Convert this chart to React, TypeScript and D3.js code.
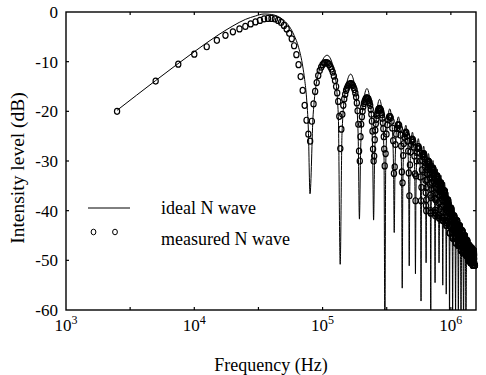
import React from "react";
import * as d3 from "d3";

// ---------- data (frequency in kHz, level in dB) ----------
const xMajorTicks = [1e3, 1e4, 1e5, 1e6];
const xMajorExp = ["3", "4", "5", "6"];
const xMinorTicks = [3162, 31623, 316228];
const yTicks = [0, -10, -20, -30, -40, -50, -60];
const yTickLabels = ["0", "-10", "-20", "-30", "-40", "-50", "-60"];

const legendLabels = ["ideal N wave", "measured N wave"];
const xTitle = "Frequency (Hz)";
const yTitle = "Intensity level (dB)";

// ideal N wave (main lobe)
const idealMain: [number, number][] = [
  [2.5, -19.8], [5, -13.8], [10, -8.0], [15, -4.8], [20, -2.8], [25, -1.5], [30, -0.8],
  [35, -0.4], [40, -0.5], [45, -0.9], [50, -1.7], [55, -2.9], [60, -4.7], [65, -7.1],
  [70, -10.9], [72.5, -13.6], [75, -17.3], [77.5, -23.8], [79.8, -36.6],
];
// ideal N wave (side lobes)
const idealLobes: [number, number][] = [
  [84.4, -20.7], [94.2, -11.7], [108.5, -8.7], [122.9, -11.7], [132.6, -20.7], [137.2, -50.8],
  [141.7, -24.5], [151.3, -15.5], [165.5, -12.5], [179.6, -15.5], [189.2, -24.5], [193.7, -41.7],
  [198.2, -27.4], [207.7, -18.4], [221.8, -15.4], [235.8, -18.4], [245.3, -27.4], [249.8, -41.9],
  [254.3, -29.6], [263.8, -20.6], [277.9, -17.6], [291.9, -20.6], [301.4, -29.6], [305.9, -66],
  [310.4, -31.5], [319.9, -22.5], [333.9, -19.5], [347.8, -22.5], [357.3, -31.5], [361.8, -44.4],
  [366.3, -33.1], [375.8, -24.1], [389.8, -21.1], [403.7, -24.1], [413.2, -33.1], [417.7, -55.6],
  [422.2, -34.8], [431.7, -25.8], [445.7, -22.8], [459.6, -25.8], [469.1, -34.8], [473.6, -51.1],
  [478.1, -36.2], [487.6, -27.2], [501.6, -24.2], [515.5, -27.2], [525.0, -36.2], [529.5, -52.7],
  [534.0, -37.5], [543.5, -28.5], [557.4, -25.5], [571.4, -28.5], [580.8, -37.5], [585.3, -58.2],
  [589.8, -39.0], [599.3, -30.0], [613.3, -27.0], [627.2, -30.0], [636.7, -39.0], [641.2, -50.5],
  [645.7, -40.5], [655.2, -31.5], [669.1, -28.5], [683.0, -31.5], [692.5, -40.5], [697.0, -66],
  [701.5, -41.9], [711.0, -32.9], [725.0, -29.9], [738.9, -32.9], [748.4, -41.9], [752.9, -54.5],
  [757.4, -43.6], [766.9, -34.6], [780.8, -31.6], [794.7, -34.6], [804.2, -43.6], [808.7, -50.5],
  [813.2, -44.9], [822.7, -35.9], [836.6, -32.9], [850.5, -35.9], [860.0, -44.9], [864.5, -55.0],
  [869.0, -46.3], [878.5, -37.3], [892.4, -34.3], [906.4, -37.3], [915.8, -46.3], [920.3, -56.8],
  [924.8, -48.3], [934.3, -39.3], [948.2, -36.3], [962.2, -39.3], [971.6, -48.3], [976.1, -66],
  [980.6, -50.3], [990.1, -41.3], [1004.1, -38.3], [1018.0, -41.3], [1027.5, -50.3], [1032.0, -66],
  [1036.5, -52.0], [1046.0, -43.0], [1059.9, -40.0], [1073.8, -43.0], [1083.3, -52.0], [1087.8, -63],
  [1092.3, -53.5], [1101.8, -44.5], [1115.7, -41.5], [1129.7, -44.5], [1139.1, -53.5], [1143.6, -66],
  [1148.1, -55.0], [1157.6, -46.0], [1171.5, -43.0], [1185.4, -46.0], [1194.9, -55.0], [1199.4, -63],
  [1203.9, -56.5], [1213.4, -47.5], [1227.3, -44.5], [1241.3, -47.5], [1250.7, -56.5], [1255.2, -66],
  [1259.7, -58.0], [1269.2, -49.0], [1283.1, -46.0], [1297.1, -49.0], [1306.5, -58.0], [1311.0, -66],
  [1315.5, -59.5], [1325.0, -50.5], [1338.9, -47.5],
];

// measured N wave
const measuredLow: [number, number][] = [
  [2.5, -20], [5, -13.9], [7.5, -10.5], [10, -8.5], [12.5, -7.0], [15, -5.7], [17.5, -4.7],
  [20, -4.0], [22.5, -3.4], [25, -2.9], [27.5, -2.4], [30, -2.0], [32.5, -1.7], [35, -1.4],
  [37.5, -1.3], [40, -1.3], [42.5, -1.4], [45, -1.7], [47.5, -2.1], [50, -2.7], [52.5, -3.4],
  [55, -4.3], [57.5, -5.4], [60, -6.8], [62.5, -8.6], [65, -10.6], [67.5, -13.0], [70, -15.8],
  [72.5, -18.8], [75, -21.8], [77.5, -24.6], [80, -26.0],
  [82.5, -22.0], [85, -18.5], [87.5, -16.0], [90, -14.2], [92.5, -12.8], [95, -11.8], [97.5, -11.1],
  [100, -10.6], [102.5, -10.3], [105, -10.2], [107.5, -10.2], [110, -10.3], [112.5, -10.6],
  [115, -11.0], [117.5, -11.5], [120, -12.1], [122.5, -12.9], [125, -13.8], [127.5, -15.0],
  [130, -16.3], [132.5, -18.0], [135, -21.0], [137.5, -27.5],
];
const measuredMid: [number, number][] = [
  [140, -23.6], [142.5, -20.6], [145, -18.8], [147.5, -17.5], [150, -16.6], [152.5, -15.8],
  [155, -15.3], [157.5, -14.9], [160, -14.6], [162.5, -14.5], [165, -14.4], [167.5, -14.4],
  [170, -14.6], [172.5, -14.8], [175, -15.2], [177.5, -15.6], [180, -16.3], [182.5, -17.1],
  [185, -18.3], [187.5, -19.9], [190, -22.6], [192.5, -28.0],
  [195, -30.0], [197.5, -25.1], [200, -22.6], [202.5, -21.1], [205, -20.0], [207.5, -19.1],
  [210, -18.4], [212.5, -18.0], [215, -17.7], [217.5, -17.4], [220, -17.3], [222.5, -17.3],
  [225, -17.4], [227.5, -17.5], [230, -17.9], [232.5, -18.2], [235, -18.8], [237.5, -19.6],
  [240, -20.6], [242.5, -22.0], [245, -24.0], [247.5, -27.6],
  [250, -30.0], [252.5, -29.0], [255, -25.7], [257.5, -23.8], [260, -22.5], [262.5, -21.6],
  [265, -20.8], [267.5, -20.3], [270, -19.9], [272.5, -19.6], [275, -19.5], [277.5, -19.4],
  [280, -19.5], [282.5, -19.6], [285, -19.8], [287.5, -20.2], [290, -20.7], [292.5, -21.4],
  [295, -22.3], [297.5, -23.5], [300, -25.1], [302.5, -27.6], [305, -31.0],
];
const measuredHigh: [number, number][] = [
  [310, -28.5], [315, -24.6], [320, -22.7], [325, -21.7], [330, -21.1], [335, -21.0], [340, -21.3],
  [345, -22.0], [350, -23.4], [355, -25.9], [360, -32.5],
  [365, -31.2], [370, -26.7], [375, -24.6], [380, -23.4], [385, -22.8], [390, -22.6], [395, -22.8],
  [400, -23.5], [405, -24.8], [410, -27.0], [415, -32.2],
  [420, -34.4], [425, -28.9], [430, -26.5], [435, -25.2], [440, -24.5], [445, -24.2], [450, -24.3],
  [455, -24.9], [460, -26.0], [465, -28.0], [470, -32.4],
  [475, -37.0], [480, -30.8], [485, -28.2], [490, -26.7], [495, -25.9], [500, -25.6], [505, -25.7],
  [510, -26.2], [515, -27.2], [520, -29.0], [525, -32.6],
  [530, -38.0], [535, -33.0], [540, -30.0], [545, -28.3], [550, -27.5], [555, -27.1], [560, -27.1],
  [565, -27.5], [570, -28.4], [575, -30.0], [580, -33.2], [585, -38.0],
  [590, -35.3], [595, -31.8], [600, -29.9],
];
const measuredTail: [number, number][] = [
  [605, -29.1], [610, -28.6], [615, -28.5], [620, -28.8], [625, -29.6], [630, -31.2], [635, -33.9], [640, -39.0],
  [645, -37.8], [650, -33.8], [655, -31.8], [660, -30.7], [665, -30.1], [670, -30.0], [675, -30.3],
  [680, -31.0], [685, -32.4], [690, -34.8], [695, -40.0],
  [700, -40.4], [705, -35.6], [710, -33.4], [715, -32.3], [720, -31.6], [725, -31.4], [730, -31.6],
  [735, -32.3], [740, -33.5], [745, -35.7], [750, -40.4],
  [755, -41.0], [760, -37.8], [765, -35.4], [770, -34.0], [775, -33.3], [780, -33.0], [785, -33.1],
  [790, -33.7], [795, -34.8], [800, -36.8], [805, -40.9],
  [810, -41.5], [815, -39.7], [820, -37.0], [825, -35.5], [830, -34.7], [835, -34.4], [840, -34.5],
  [845, -35.0], [850, -36.0], [855, -37.8], [860, -41.3],
  [865, -42.0], [870, -42.0], [875, -38.9], [880, -37.3], [885, -36.5], [890, -36.0], [895, -36.0],
  [900, -36.5], [905, -37.4], [910, -39.0], [915, -42.0], [920, -42.0],
  [925, -43.0], [930, -41.1], [935, -39.3], [940, -38.4], [945, -37.9], [950, -37.8], [955, -38.1],
  [960, -38.9], [965, -40.5], [970, -43.0], [975, -43.0],
  [980, -44.5], [985, -43.2], [990, -41.2], [995, -40.2], [1000, -39.6], [1005, -39.5], [1010, -39.8],
  [1015, -40.5], [1020, -41.9], [1025, -44.3], [1030, -44.5],
  [1035, -45.5], [1040, -45.2], [1045, -43.0], [1050, -41.8], [1055, -41.2], [1060, -41.0], [1065, -41.2],
  [1070, -41.9], [1075, -43.1], [1080, -45.3], [1085, -45.5],
  [1090, -46.5], [1095, -46.5], [1100, -44.3], [1105, -43.0], [1110, -42.2], [1115, -42.0], [1120, -42.1],
  [1125, -42.7], [1130, -43.9], [1135, -45.9], [1140, -46.5],
  [1145, -47.0], [1150, -47.0], [1155, -45.6], [1160, -44.1], [1165, -43.3], [1170, -43.0], [1175, -43.1],
  [1180, -43.6], [1185, -44.6], [1190, -46.5], [1195, -47.0],
  [1200, -48.0], [1205, -48.0], [1210, -46.9], [1215, -45.3], [1220, -44.5], [1225, -44.0], [1230, -44.1],
  [1235, -44.5], [1240, -45.4], [1245, -47.1], [1250, -48.0], [1255, -48.0],
  [1260, -48.5], [1265, -48.2], [1270, -46.5], [1275, -45.6], [1280, -45.1], [1285, -45.0], [1290, -45.4],
  [1295, -46.2], [1300, -47.8], [1305, -48.5], [1310, -48.5],
  [1315, -49.0], [1320, -49.0], [1325, -47.7], [1330, -46.7], [1335, -46.1], [1340, -46.0], [1345, -46.3],
  [1350, -47.0], [1355, -48.5], [1360, -49.0], [1365, -49.0],
  [1370, -50.0], [1375, -50.0], [1380, -49.0], [1385, -47.8], [1390, -47.2], [1395, -47.0], [1400, -47.2],
  [1405, -47.9], [1410, -49.2], [1415, -50.0], [1420, -50.0],
  [1425, -50.5], [1430, -50.5], [1435, -49.7], [1440, -48.4], [1445, -47.7], [1450, -47.5], [1455, -47.6],
  [1460, -48.3], [1465, -49.4], [1470, -50.5], [1475, -50.5],
  [1480, -51.0], [1485, -51.0], [1490, -50.5], [1495, -49.0], [1500, -48.3], [1505, -48.0], [1510, -48.1],
  [1515, -48.6], [1520, -49.7], [1525, -51.0], [1530, -51.0], [1535, -51.0], [1540, -51.0],
];
// measured N wave, the in-between bins of the dense high-frequency band
const measuredTailOdd: [number, number][] = [
  [607.5, -28.7], [612.5, -28.5], [617.5, -28.6], [622.5, -29.2], [627.5, -30.3], [632.5, -32.3], [637.5, -36.4],
  [642.5, -40.0], [647.5, -35.3], [652.5, -32.6], [657.5, -31.1], [662.5, -30.3], [667.5, -30.0], [672.5, -30.1],
  [677.5, -30.6], [682.5, -31.6], [687.5, -33.4], [692.5, -36.9],
  [697.5, -40.5], [702.5, -37.4], [707.5, -34.3], [712.5, -32.7], [717.5, -31.9], [722.5, -31.5], [727.5, -31.5],
  [732.5, -31.9], [737.5, -32.7], [742.5, -34.3], [747.5, -37.5], [752.5, -40.5],
  [757.5, -39.9], [762.5, -36.4], [767.5, -34.5], [772.5, -33.6], [777.5, -33.1], [782.5, -33.0], [787.5, -33.3],
  [792.5, -34.1], [797.5, -35.7], [802.5, -38.4], [807.5, -41.0],
  [812.5, -41.5], [817.5, -38.2], [822.5, -36.2], [827.5, -35.1], [832.5, -34.5], [837.5, -34.4], [842.5, -34.7],
  [847.5, -35.4], [852.5, -36.8], [857.5, -39.2], [862.5, -41.5],
  [867.5, -42.0], [872.5, -40.2], [877.5, -38.1], [882.5, -36.8], [887.5, -36.2], [892.5, -36.0], [897.5, -36.2],
  [902.5, -36.9], [907.5, -38.1], [912.5, -40.3], [917.5, -42.0],
  [922.5, -43.0], [927.5, -42.5], [932.5, -40.1], [937.5, -38.8], [942.5, -38.0], [947.5, -37.8], [952.5, -37.9],
  [957.5, -38.5], [962.5, -39.7], [967.5, -41.7], [972.5, -43.0],
  [977.5, -44.5], [982.5, -44.5], [987.5, -42.1], [992.5, -40.6], [997.5, -39.8], [1002.5, -39.5], [1007.5, -39.6],
  [1012.5, -40.1], [1017.5, -41.1], [1022.5, -42.9], [1027.5, -44.5],
  [1032.5, -45.5], [1037.5, -45.5], [1042.5, -43.9], [1047.5, -42.3], [1052.5, -41.5], [1057.5, -41.1], [1062.5, -41.1],
  [1067.5, -41.5], [1072.5, -42.4], [1077.5, -44.0], [1082.5, -45.5], [1087.5, -45.5],
  [1092.5, -46.5], [1097.5, -45.3], [1102.5, -43.5], [1107.5, -42.6], [1112.5, -42.1], [1117.5, -42.0], [1122.5, -42.3],
  [1127.5, -43.1], [1132.5, -44.7], [1137.5, -46.5], [1142.5, -46.5],
  [1147.5, -47.0], [1152.5, -46.7], [1157.5, -44.7], [1162.5, -43.7], [1167.5, -43.1], [1172.5, -43.0], [1177.5, -43.3],
  [1182.5, -44.0], [1187.5, -45.4], [1192.5, -47.0], [1197.5, -47.0],
  [1202.5, -48.0], [1207.5, -48.0], [1212.5, -46.0], [1217.5, -44.8], [1222.5, -44.2], [1227.5, -44.0], [1232.5, -44.2],
  [1237.5, -44.9], [1242.5, -46.1], [1247.5, -48.0], [1252.5, -48.0],
  [1257.5, -48.5], [1262.5, -48.5], [1267.5, -47.3], [1272.5, -46.0], [1277.5, -45.2], [1282.5, -45.0], [1287.5, -45.1],
  [1292.5, -45.7], [1297.5, -46.9], [1302.5, -48.5], [1307.5, -48.5],
  [1312.5, -49.0], [1317.5, -49.0], [1322.5, -48.6], [1327.5, -47.1], [1332.5, -46.3], [1337.5, -46.0], [1342.5, -46.1],
  [1347.5, -46.6], [1352.5, -47.6], [1357.5, -49.0], [1362.5, -49.0],
  [1367.5, -50.0], [1372.5, -50.0], [1377.5, -49.9], [1382.5, -48.3], [1387.5, -47.5], [1392.5, -47.0], [1397.5, -47.1],
  [1402.5, -47.5], [1407.5, -48.4], [1412.5, -50.0], [1417.5, -50.0],
  [1422.5, -50.5], [1427.5, -50.5], [1432.5, -50.5], [1437.5, -49.0], [1442.5, -48.1], [1447.5, -47.6], [1452.5, -47.5],
  [1457.5, -47.9], [1462.5, -48.7], [1467.5, -50.3], [1472.5, -50.5], [1477.5, -50.5],
  [1482.5, -51.0], [1487.5, -51.0], [1492.5, -49.7], [1497.5, -48.7], [1502.5, -48.1], [1507.5, -48.0], [1512.5, -48.3],
  [1517.5, -49.0], [1522.5, -50.5], [1527.5, -51.0], [1532.5, -51.0], [1537.5, -51.0],
];

// ---------- layout ----------
const W = 486;
const H = 375;
const left = 66, right = 476, top = 12, bottom = 310;
const FONT = "'Liberation Serif', 'Times New Roman', Times, serif";

export default function App() {
  const x = d3.scaleLog().domain([1e3, 1.57e6]).range([left, right]);
  const y = d3.scaleLinear().domain([-60, 0]).range([bottom, top]);

  const ideal = [...idealMain, ...idealLobes];
  const measured = [
    ...measuredLow,
    ...measuredMid,
    ...measuredHigh,
    ...measuredTail,
    ...measuredTailOdd,
  ];

  const lineGen = d3
    .line<[number, number]>()
    .x((d) => x(d[0] * 1000))
    .y((d) => y(d[1]))
    .curve(d3.curveMonotoneX);

  const xTickAll = [...xMinorTicks, ...xMajorTicks.slice(1)];
  const tickLen = 3;

  return (
    <svg
      width={W}
      height={H}
      style={{ position: "absolute", left: 0, top: 0, background: "#fff" }}
      fontFamily={FONT}
    >
      <defs>
        <clipPath id="plotClip">
          <rect x={left} y={top} width={right - left} height={bottom - top} />
        </clipPath>
      </defs>
      <rect x={0} y={0} width={W} height={H} fill="#fff" />

      {/* ideal line */}
      <path
        d={lineGen(ideal) || ""}
        fill="none"
        stroke="#000"
        strokeWidth={1}
        clipPath="url(#plotClip)"
      />

      {/* measured circles */}
      <g fill="none" stroke="#000" strokeWidth={1.2}>
        {measured.map((d, i) => (
          <ellipse key={i} cx={x(d[0] * 1000)} cy={y(d[1])} rx={2.6} ry={3.0} />
        ))}
      </g>

      {/* frame */}
      <rect
        x={left}
        y={top}
        width={right - left}
        height={bottom - top}
        fill="none"
        stroke="#000"
        strokeWidth={1.4}
      />

      {/* x ticks (bottom and top, inward) */}
      {xTickAll.map((v, i) => (
        <g key={"xt" + i} stroke="#000" strokeWidth={1.2}>
          <line x1={x(v)} x2={x(v)} y1={bottom} y2={bottom - tickLen} />
          <line x1={x(v)} x2={x(v)} y1={top} y2={top + tickLen} />
        </g>
      ))}
      {/* y ticks (left and right, inward) */}
      {yTicks.slice(1, -1).map((v, i) => (
        <g key={"yt" + i} stroke="#000" strokeWidth={1.2}>
          <line x1={left} x2={left + tickLen} y1={y(v)} y2={y(v)} />
          <line x1={right} x2={right - tickLen} y1={y(v)} y2={y(v)} />
        </g>
      ))}

      {/* y tick labels */}
      {yTicks.map((v, i) => (
        <text key={"yl" + i} x={58} y={y(v) + 6} textAnchor="end" fontSize={17} fill="#000">
          {yTickLabels[i]}
        </text>
      ))}

      {/* x tick labels */}
      {xMajorTicks.map((v, i) => (
        <text key={"xl" + i} x={x(v)} y={331} textAnchor="middle" fontSize={17} fill="#000">
          10
          <tspan dy={-7} fontSize={12}>
            {xMajorExp[i]}
          </tspan>
        </text>
      ))}

      {/* axis titles */}
      <text x={271} y={371} textAnchor="middle" fontSize={18} fill="#000">
        {xTitle}
      </text>
      <text
        transform="translate(24,168) rotate(-90)"
        textAnchor="middle"
        fontSize={19.5}
        fill="#000"
      >
        {yTitle}
      </text>

      {/* legend */}
      <line x1={88} x2={130} y1={208} y2={208} stroke="#000" strokeWidth={1} />
      <text x={161} y={214} fontSize={18} fill="#000">
        {legendLabels[0]}
      </text>
      <g fill="none" stroke="#000" strokeWidth={1}>
        <ellipse cx={93.5} cy={232} rx={2.4} ry={2.8} />
        <ellipse cx={115} cy={232} rx={2.4} ry={2.8} />
      </g>
      <text x={161} y={245} fontSize={18} fill="#000">
        {legendLabels[1]}
      </text>
    </svg>
  );
}
